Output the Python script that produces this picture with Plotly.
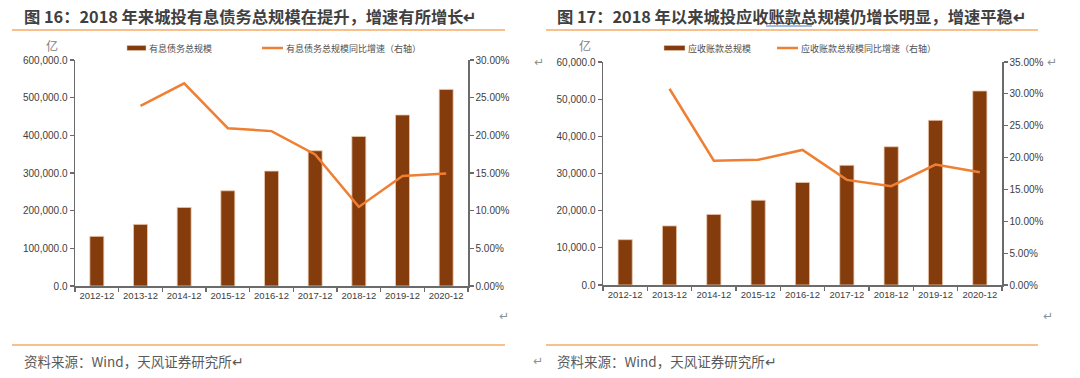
import plotly.graph_objects as go

W, H = 1080, 378

categories = ["2012-12", "2013-12", "2014-12", "2015-12", "2016-12",
              "2017-12", "2018-12", "2019-12", "2020-12"]
debt_total = [131800, 163600, 208700, 252800, 305000, 359000, 397000, 454000, 522000]
debt_growth = [None, 0.239, 0.269, 0.2095, 0.2056, 0.1746, 0.105, 0.146, 0.1495]
recv_total = [12200, 15900, 19000, 22800, 27600, 32200, 37200, 44300, 52200]
recv_growth = [None, 0.308, 0.195, 0.1965, 0.212, 0.165, 0.155, 0.189, 0.177]

title_left = "图 16：2018 年来城投有息债务总规模在提升，增速有所增长↵"
title_right = "图 17：2018 年以来城投应收账款总规模仍增长明显，增速平稳↵"
legend_left = ["有息债务总规模", "有息债务总规模同比增速（右轴）"]
legend_right = ["应收账款总规模", "应收账款总规模同比增速（右轴）"]
source_text = "资料来源：Wind，天风证券研究所↵"
unit_text = "亿"

BAR = "#843C0C"
LINE = "#EF7F33"
AXIS = "#6b6b6b"
TXT = "#404040"
SEP = "#F8C08C"
CJK = "Noto Sans CJK SC"


def px(x):
    return x / W


def py(y):
    return 1 - y / H


fig = go.Figure()

fig.add_trace(go.Bar(x=categories, y=debt_total, xaxis="x", yaxis="y",
                     marker=dict(color=BAR, line=dict(color="#EBC9AE", width=0.8)),
                     width=0.32, showlegend=False))
fig.add_trace(go.Scatter(x=categories, y=debt_growth, xaxis="x", yaxis="y2",
                         mode="lines", line=dict(color=LINE, width=2.5),
                         showlegend=False))
fig.add_trace(go.Bar(x=categories, y=recv_total, xaxis="x2", yaxis="y3",
                     marker=dict(color=BAR, line=dict(color="#EBC9AE", width=0.8)),
                     width=0.32, showlegend=False))
fig.add_trace(go.Scatter(x=categories, y=recv_growth, xaxis="x2", yaxis="y4",
                         mode="lines", line=dict(color=LINE, width=2.5),
                         showlegend=False))

tickfont = dict(family="Liberation Sans, Arial", size=10, color=TXT)
common_x = dict(type="category", showline=True, linecolor=AXIS, linewidth=1.5,
                ticks="outside", tickson="boundaries", ticklen=4, tickcolor=AXIS,
                tickwidth=1.2, showgrid=False, tickangle=0, automargin=False,
                tickfont=dict(family="Liberation Sans, Arial", size=9.5, color=TXT),
                fixedrange=True)
common_y = dict(showline=True, linecolor=AXIS, linewidth=1.5, ticks="outside",
                ticklen=4, tickcolor=AXIS, tickwidth=1.2, showgrid=False,
                zeroline=False, tickfont=tickfont, automargin=False,
                fixedrange=True)

fig.update_layout(
    width=W, height=H, margin=dict(l=0, r=0, t=0, b=0, autoexpand=False),
    paper_bgcolor="white", plot_bgcolor="white", showlegend=False,
    hovermode=False,
    xaxis=dict(domain=[px(75), px(468)], anchor="y", **common_x),
    yaxis=dict(domain=[py(286), py(60)], anchor="x", range=[0, 600000],
               dtick=100000, tickformat=",.1f", **common_y),
    yaxis2=dict(overlaying="y", side="right", anchor="x", range=[0, 0.30],
                dtick=0.05, tickformat=".2%", **common_y),
    xaxis2=dict(domain=[px(603), px(1002)], anchor="y3", **common_x),
    yaxis3=dict(domain=[py(285), py(62)], anchor="x2", range=[0, 60000],
                dtick=10000, tickformat=",.1f", **common_y),
    yaxis4=dict(overlaying="y3", side="right", anchor="x2", range=[0, 0.35],
                dtick=0.05, tickformat=".2%", **common_y),
)

shapes = []
annotations = []

# separators
for x0, x1 in [(12, 505), (546, 1038)]:
    for y in (30, 345):
        shapes.append(dict(type="line", xref="paper", yref="paper",
                           x0=px(x0), x1=px(x1), y0=py(y), y1=py(y),
                           line=dict(color=SEP, width=2)))

# titles
for x, t in [(22, title_left), (555, title_right)]:
    annotations.append(dict(x=px(x), y=py(16), xref="paper", yref="paper",
                            text="<b>" + t + "</b>", showarrow=False,
                            xanchor="left", yanchor="middle",
                            font=dict(family=CJK, size=16.3, color=TXT)))
# spell-check underline
for y in (23.5, 26):
    shapes.append(dict(type="line", xref="paper", yref="paper",
                       x0=px(766), x1=px(812), y0=py(y), y1=py(y),
                       line=dict(color="#4A78D0", width=1)))

# source
for x in (22, 555):
    annotations.append(dict(x=px(x), y=py(361), xref="paper", yref="paper",
                            text=source_text, showarrow=False,
                            xanchor="left", yanchor="middle",
                            font=dict(family=CJK, size=13.5, color="#5a5a5a")))

# legends
def legend(bx0, bx1, tx1, lx0, lx1, tx2, labels):
    shapes.append(dict(type="rect", xref="paper", yref="paper",
                       x0=px(bx0), x1=px(bx1), y0=py(50.5), y1=py(45.5),
                       fillcolor=BAR, line=dict(color="#EBC9AE", width=0.5)))
    shapes.append(dict(type="line", xref="paper", yref="paper",
                       x0=px(lx0), x1=px(lx1), y0=py(48), y1=py(48),
                       line=dict(color=LINE, width=2.5)))
    for x, t in [(tx1, labels[0]), (tx2, labels[1])]:
        annotations.append(dict(x=px(x), y=py(48), xref="paper", yref="paper",
                                text=t, showarrow=False, xanchor="left",
                                yanchor="middle",
                                font=dict(family=CJK, size=9, color="#505050")))


legend(127, 146, 147, 262, 283, 284, legend_left)
legend(664, 685, 686, 777, 798, 799, legend_right)

for x in (52, 585):
    annotations.append(dict(x=px(x), y=py(46), xref="paper", yref="paper",
                            text=unit_text, showarrow=False, xanchor="center",
                            yanchor="middle",
                            font=dict(family=CJK, size=12, color="#808080")))

# paragraph marks
for x, y in [(539, 62), (504, 316), (1052, 62), (1048, 316), (538, 361)]:
    annotations.append(dict(x=px(x), y=py(y), xref="paper", yref="paper",
                            text="↵", showarrow=False, xanchor="center",
                            yanchor="middle",
                            font=dict(family="DejaVu Sans", size=12, color="#909090")))

fig.update_layout(shapes=shapes, annotations=annotations)
fig.write_html("out.html", config={"displayModeBar": False, "staticPlot": True})

# remove the default browser body margin so the figure sits at the page origin
with open("out.html", "r", encoding="utf-8") as f:
    html = f.read()
html = html.replace("<head>", "<head><style>html,body{margin:0;padding:0;overflow:hidden;}</style>", 1)
with open("out.html", "w", encoding="utf-8") as f:
    f.write(html)
